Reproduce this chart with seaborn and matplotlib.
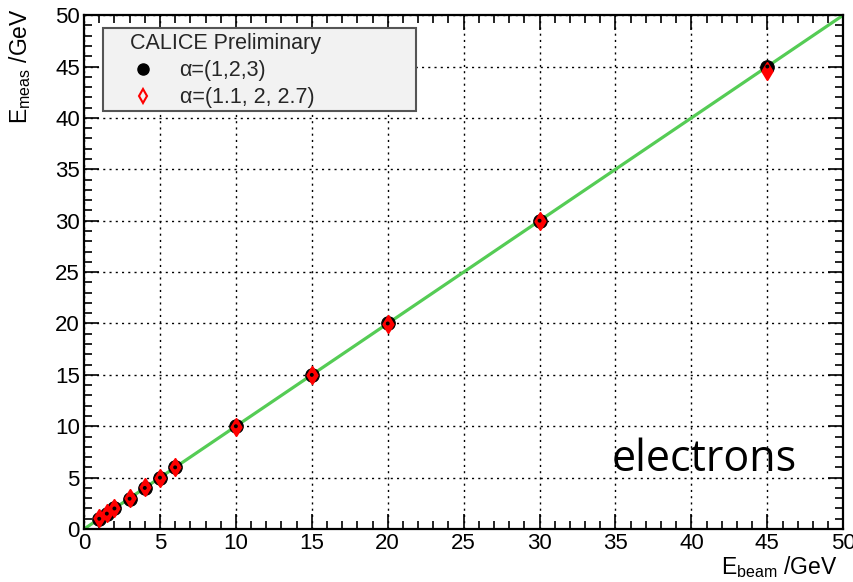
import numpy as np
import pandas as pd
import matplotlib
matplotlib.use("Agg")
import matplotlib.pyplot as plt
import seaborn as sns
from matplotlib.lines import Line2D
from matplotlib.patches import Rectangle
from matplotlib.ticker import MultipleLocator

# Beam energies and reconstructed energies for the two weighting schemes
e_beam = [1, 1.5, 2, 3, 4, 5, 6, 10, 15, 20, 30, 45]
e_meas_a = [1.0, 1.5, 2.0, 2.95, 4.0, 5.0, 6.0, 10.0, 15.0, 20.0, 30.0, 45.0]
e_meas_b = [1.05, 1.55, 2.05, 3.05, 4.05, 5.0, 6.05, 9.95, 14.95, 19.95, 29.95, 44.55]
label_a = "α=(1,2,3)"
label_b = "α=(1.1, 2, 2.7)"
fit_x = [0, 50]
fit_y = [0, 50]

sns.set_theme(style="white")
plt.rcParams["font.family"] = ["Liberation Sans", "DejaVu Sans"]
plt.rcParams["mathtext.default"] = "regular"

df = pd.DataFrame({"ebeam": e_beam + e_beam,
                   "emeas": e_meas_a + e_meas_b,
                   "set": [label_a] * len(e_beam) + [label_b] * len(e_beam)})
fit = pd.DataFrame({"x": fit_x, "y": fit_y})

fig = plt.figure(figsize=(8.54, 5.82), dpi=100)
ax = fig.add_axes([0.0984, 0.091, 0.889, 0.883])

sns.lineplot(data=fit, x="x", y="y", ax=ax, color="#55cc55", lw=2.3, zorder=2)

da = df[df["set"] == label_a]
db = df[df["set"] == label_b]
sns.scatterplot(data=da, x="ebeam", y="emeas", ax=ax, marker="o", s=95,
                color="black", edgecolor="black", zorder=3, legend=False)
sns.scatterplot(data=db, x="ebeam", y="emeas", ax=ax, marker="d", s=75,
                facecolor="red", edgecolor="red", linewidth=1.5, zorder=4,
                legend=False)
sns.scatterplot(data=da, x="ebeam", y="emeas", ax=ax, marker="o", s=8,
                color="black", edgecolor="none", zorder=5, legend=False)

ax.set_xlim(0, 50)
ax.set_ylim(0, 50)
ax.xaxis.set_major_locator(MultipleLocator(5))
ax.yaxis.set_major_locator(MultipleLocator(5))
ax.xaxis.set_minor_locator(MultipleLocator(1))
ax.yaxis.set_minor_locator(MultipleLocator(1))
ax.tick_params(which="both", direction="in", top=True, right=True,
               bottom=True, left=True, color="black", width=1.2)
ax.tick_params(which="major", length=11, labelsize=16, pad=3,
               labelcolor="black")
ax.tick_params(which="minor", length=6)
ax.grid(True, which="major", color="black", linestyle=(0, (1.5, 3)), lw=1.0)
for sp in ax.spines.values():
    sp.set_color("black")
    sp.set_linewidth(1.6)

ax.set_xlabel(r"E$_{beam}$ /GeV", fontsize=16.5, loc="right", color="black")
ax.set_ylabel(r"E$_{meas}$ /GeV", fontsize=16.5, loc="top", color="black")
ax.xaxis.set_label_coords(0.992, -0.048)
ax.yaxis.set_label_coords(-0.067, 1.014)

ax.text(0.939, 0.134, "electrons", transform=ax.transAxes, ha="right",
        va="center", fontsize=31, family="Open Sans", color="black")

# Legend panel: grey box with a frameless legend placed inside it
ax.add_patch(Rectangle((0.025, 0.813), 0.412, 0.161, transform=ax.transAxes,
                       facecolor="#f2f2f2", edgecolor="#555555", lw=1.5,
                       zorder=6))
handles = [
    Line2D([], [], marker="o", linestyle="none", color="black", markersize=8),
    Line2D([], [], marker="d", linestyle="none", markerfacecolor="none",
           markeredgecolor="red", markeredgewidth=1.5, markersize=7),
]
leg = ax.legend(handles, [label_a, label_b], title="CALICE Preliminary",
                loc="upper left", bbox_to_anchor=(0.0606, 0.965),
                fontsize=15.5, title_fontsize=15.5, frameon=False,
                borderpad=0, handlelength=1.2, handletextpad=1.1,
                labelspacing=0.28, borderaxespad=0)
leg._legend_box.align = "left"
leg.set_zorder(7)

fig.savefig("out.png", dpi=100)
